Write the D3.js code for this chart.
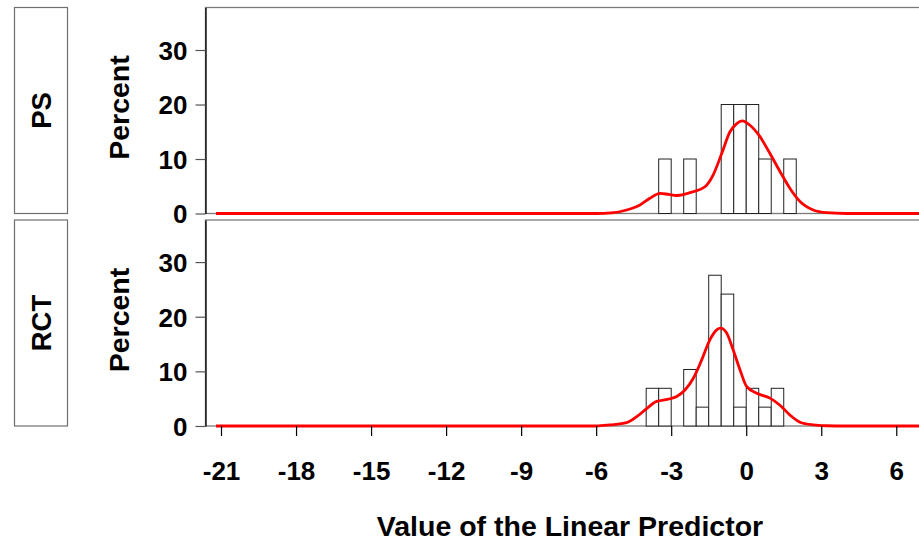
<!DOCTYPE html>
<html>
<head>
<meta charset="utf-8">
<script src="https://cdn.jsdelivr.net/npm/d3@7/dist/d3.min.js"></script>
<style>
  html, body { margin:0; padding:0; background:#fff; }
  svg { display:block; font-family: Arial, "Liberation Sans", Helvetica, sans-serif; font-weight:bold; }
</style>
</head>
<body>
<svg id="chart" width="919" height="541"></svg>
<script>
// ---- data ----
const panelNames = ["PS", "RCT"];
const binWidth = 0.5;

// histogram bins: left edge + percent
const psBinLeft = [-3.5, -2.5, -1.0, -0.5, 0.0, 0.5, 1.5];
const psPercent = [10, 10, 20, 20, 20, 10, 10];

const rctBinLeft = [-4.0, -3.5, -2.5, -2.0, -1.5, -1.0, -0.5, 0.0, 0.5, 1.0];
const rctPercent = [6.90, 6.90, 10.34, 3.45, 27.59, 24.14, 3.45, 6.90, 3.45, 6.90];

// density curves (red)
const psCurveX = [-21.2, -6.0, -5.4, -4.78, -4.25, -3.85, -3.45, -3.1, -2.78, -2.12, -1.65, -1.32, -0.98, -0.65, -0.38, -0.16, 0.15, 0.55, 0.95, 1.35, 1.75, 2.15, 2.68, 3.2, 4.0, 7.2];
const psCurveY = [0, 0, 0.1, 0.64, 1.56, 2.8, 3.7, 3.5, 3.3, 4.0, 4.9, 7.1, 11.0, 15.0, 16.5, 17.0, 16.2, 14.1, 11.0, 7.7, 4.6, 2.2, 0.64, 0.15, 0, 0];

const rctCurveX = [-21.2, -6.0, -5.45, -4.78, -4.38, -3.98, -3.58, -3.12, -2.78, -2.45, -2.12, -1.78, -1.45, -1.18, -1.02, -0.78, -0.52, -0.25, 0.02, 0.42, 0.95, 1.35, 1.75, 2.15, 2.68, 3.2, 4.0, 7.2];
const rctCurveY = [0, 0, 0.2, 0.6, 1.7, 3.2, 4.5, 4.9, 5.4, 6.6, 8.7, 12.1, 15.8, 17.6, 17.9, 17.0, 13.9, 10.3, 7.2, 6.0, 5.1, 3.8, 2.0, 0.7, 0.2, 0.05, 0, 0];

const xTicks = [-21, -18, -15, -12, -9, -6, -3, 0, 3, 6];
const yTicks = [0, 10, 20, 30];

// ---- layout ----
const svg = d3.select("#chart");

const x = d3.scaleLinear()
  .domain([-21.6, 7.2])
  .range([206, 926.3]);

const panels = [
  { name: panelNames[0], top: 7.5, bottom: 213.5, yMax: 37.8, left: psBinLeft, pct: psPercent, cx: psCurveX, cy: psCurveY },
  { name: panelNames[1], top: 220, bottom: 426, yMax: 37.7, left: rctBinLeft, pct: rctPercent, cx: rctCurveX, cy: rctCurveY }
];

const plotLeft = 205.5;
const plotRight = 930;

// plain hyphen for negative tick labels, as in the original
const fmt = d => String(d);

panels.forEach((p, i) => {

  const y = d3.scaleLinear()
    .domain([0, p.yMax])
    .range([p.bottom, p.top]);

  // strip box on the left
  svg.append("rect")
    .attr("x", 14.5)
    .attr("y", p.top)
    .attr("width", 53)
    .attr("height", p.bottom - p.top)
    .attr("fill", "white")
    .attr("stroke", "#6e6e6e")
    .attr("stroke-width", 1.2);

  svg.append("text")
    .attr("transform", `translate(51,${(p.top + p.bottom) / 2}) rotate(-90)`)
    .attr("text-anchor", "middle")
    .style("font-size", "27.5px")
    .text(p.name);

  svg.append("text")
    .attr("transform", `translate(129,${(p.top + p.bottom) / 2 - 3}) rotate(-90)`)
    .attr("text-anchor", "middle")
    .style("font-size", "28.5px")
    .text("Percent");

  // frame
  svg.append("rect")
    .attr("x", plotLeft)
    .attr("y", p.top)
    .attr("width", plotRight - plotLeft)
    .attr("height", p.bottom - p.top)
    .attr("fill", "none")
    .attr("stroke", "#7a7a7a")
    .attr("stroke-width", 1.3);

  // bars
  svg.append("g")
    .selectAll("rect")
    .data(p.left.map((l, j) => ({ x0: l, v: p.pct[j] })))
    .join("rect")
    .attr("x", d => x(d.x0))
    .attr("y", d => y(d.v))
    .attr("width", d => x(d.x0 + binWidth) - x(d.x0))
    .attr("height", d => y(0) - y(d.v))
    .attr("fill", "white")
    .attr("stroke", "#222")
    .attr("stroke-width", 1);

  // density curve
  const line = d3.line()
    .x(d => x(d[0]))
    .y(d => y(d[1]))
    .curve(d3.curveMonotoneX);

  svg.append("path")
    .datum(p.cx.map((v, j) => [v, p.cy[j]]))
    .attr("d", line)
    .attr("fill", "none")
    .attr("stroke", "#ff0000")
    .attr("stroke-width", 2.8)
    .attr("stroke-linejoin", "round");

  // y axis
  const yAxis = svg.append("g")
    .attr("transform", `translate(${plotLeft},0)`)
    .call(d3.axisLeft(y).tickValues(yTicks).tickFormat(fmt)
      .tickSizeInner(10).tickSizeOuter(0).tickPadding(8));

  yAxis.select(".domain").attr("stroke", "#000").attr("stroke-width", 1.3);
  yAxis.selectAll(".tick line").attr("stroke", "#555").attr("stroke-width", 1.2);
  yAxis.selectAll("text")
    .style("font-size", "26px")
    .style("font-family", "Arial, 'Liberation Sans', sans-serif")
    .style("font-weight", "bold")
    .attr("fill", "#000")
    .attr("dy", "0.36em");

  // x axis only under the last panel
  if (i === panels.length - 1) {
    const xAxis = svg.append("g")
      .attr("transform", `translate(0,${p.bottom})`)
      .call(d3.axisBottom(x).tickValues(xTicks).tickFormat(fmt)
        .tickSizeInner(10).tickSizeOuter(0).tickPadding(6));

    xAxis.select(".domain").remove();
    xAxis.selectAll(".tick line").attr("stroke", "#000").attr("stroke-width", 1.2);
    xAxis.selectAll("text")
      .style("font-size", "26px")
      .style("font-family", "Arial, 'Liberation Sans', sans-serif")
      .style("font-weight", "bold")
      .attr("fill", "#000")
      .attr("y", 0)
      .attr("dy", "54px");
  }
});

svg.append("text")
  .attr("x", 570)
  .attr("y", 536)
  .attr("text-anchor", "middle")
  .style("font-size", "28.5px")
  .text("Value of the Linear Predictor");
</script>
</body>
</html>
